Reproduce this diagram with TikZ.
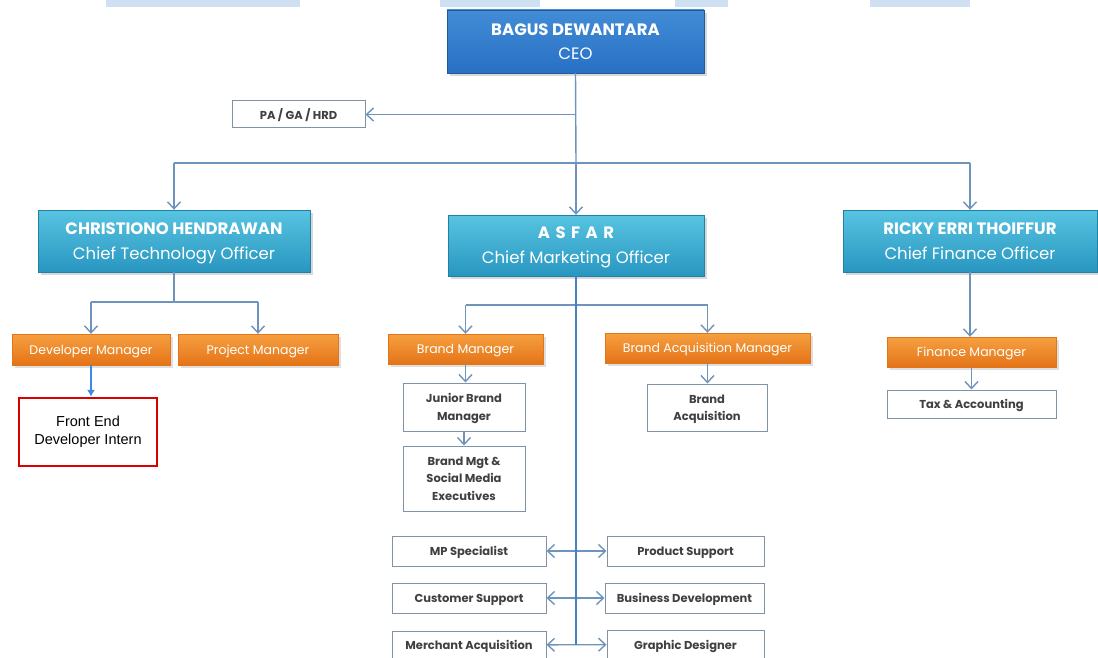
\documentclass[tikz,border=0pt]{standalone}
\usepackage{fontspec}
\setmainfont{Poppins}
\newfontfamily\arialfont{Liberation Sans}
\usepackage{tikz}
\usetikzlibrary{calc}
\usetikzlibrary{arrows.meta, shadows}
\definecolor{ceoblue}{RGB}{40,112,196}
\definecolor{ceotop}{RGB}{66,140,214}
\definecolor{tealtop}{RGB}{88,196,226}
\definecolor{tealbot}{RGB}{40,150,192}
\definecolor{orangetop}{RGB}{246,160,64}
\definecolor{orangebot}{RGB}{228,116,24}
\definecolor{linkblue}{RGB}{110,148,188}
\definecolor{trunkblue}{RGB}{72,128,200}
\definecolor{boxgrey}{RGB}{128,146,166}
\definecolor{stripblue}{RGB}{206,224,242}
\tikzstyle{ceobox} = [rectangle,
minimum width=257pt,
minimum height=63pt,
align=center,
text=white,
font=\fontsize{16.5}{24}\selectfont,
text depth=0pt,
draw=ceoblue!80!black,
top color=ceotop,
bottom color=ceoblue,
drop shadow={opacity=0.3}]
\tikzstyle{chiefbox} = [rectangle,
minimum height=62pt,
align=center,
text=white,
font=\fontsize{16.5}{25}\selectfont,
text depth=0pt,
draw=tealbot!85!black,
top color=tealtop,
bottom color=tealbot,
drop shadow={opacity=0.3}]
\tikzstyle{mgrbox} = [rectangle,
minimum height=30pt,
text=white,
font=\fontsize{12.5}{15}\selectfont,
text depth=0pt,
draw=orangebot,
top color=orangetop,
bottom color=orangebot,
drop shadow={opacity=0.25}]
\tikzstyle{staffbox} = [rectangle,
align=center,
text=black!75,
font=\fontsize{11.5}{17.5}\selectfont\bfseries,
text depth=0pt,
draw=boxgrey,
line width=1pt,
fill=white]
\tikzstyle{internbox} = [rectangle,
minimum width=138pt,
minimum height=68pt,
align=center,
font=\arialfont\fontsize{14.5}{18}\selectfont,
draw=red!85!black,
line width=2.4pt,
fill=white]
\tikzstyle{line} = [draw=linkblue, line width=1.4pt]
\tikzstyle{arrow} = [line, -{Straight Barb[length=7pt, width=13pt]}]
\tikzstyle{biarrow} = [line, {Straight Barb[length=7pt, width=13pt]}-{Straight Barb[length=7pt, width=13pt]}]

\begin{document}
\begin{tikzpicture}[x=1pt, y=-1pt]
    \useasboundingbox (0,0) rectangle (1098,658);

    % strips along the top edge
    \fill [stripblue] (106,0) rectangle (300,7);
    \fill [stripblue] (440,0) rectangle (540,7);
    \fill [stripblue] (675,0) rectangle (728,7);
    \fill [stripblue] (870,0) rectangle (970,7);

    % top level
    \node (ceo) [ceobox] at (575.5,41.5) {{\bfseries BAGUS DEWANTARA}\\CEO};
    \node (pa) [staffbox, minimum width=133pt, minimum height=27pt] at (298.5,114.5) {PA / GA / HRD};

    \node (cto) [chiefbox, minimum width=272pt] at (174,241) {{\bfseries CHRISTIONO HENDRAWAN}\\Chief Technology Officer};
    \node (cmo) [chiefbox, minimum width=256pt, minimum height=61pt] at (576,245.5) {{\bfseries A\,\,S\,\,F\,\,A\,\,R}\\Chief Marketing Officer};
    \node (cfo) [chiefbox, minimum width=254pt] at (970,241) {{\bfseries RICKY ERRI THOIFFUR}\\Chief Finance Officer};

    % technology
    \node (devm) [mgrbox, minimum width=158pt, minimum height=31pt] at (91,349.5) {Developer Manager};
    \node (projm) [mgrbox, minimum width=160pt, minimum height=31pt] at (258,349.5) {Project Manager};
    \node (fe) [internbox] at (88,432) {Front End\\Developer Intern};

    % marketing
    \node (bm) [mgrbox, minimum width=155pt] at (465.5,349) {Brand Manager};
    \node (bam) [mgrbox, minimum width=205pt] at (707.5,348) {Brand Acquisition Manager};
    \node (jbm) [staffbox, minimum width=122pt, minimum height=48pt] at (464,407) {Junior Brand\\Manager};
    \node (bmsm) [staffbox, minimum width=122pt, minimum height=65pt] at (464,478.5) {Brand Mgt \&\\Social Media\\Executives};
    \node (ba) [staffbox, minimum width=120pt, minimum height=47pt] at (707,407.5) {Brand\\Acquisition};

    \node (mp) [staffbox, minimum width=154pt, minimum height=30pt] at (469,551) {MP Specialist};
    \node (ps) [staffbox, minimum width=157pt, minimum height=30pt] at (685.5,551) {Product Support};
    \node (cs) [staffbox, minimum width=154pt, minimum height=30pt] at (469,598) {Customer Support};
    \node (bd) [staffbox, minimum width=159pt, minimum height=30pt] at (684.5,598) {Business Development};
    \node (ma) [staffbox, minimum width=154pt, minimum height=28pt] at (469,645) {Merchant Acquisition};
    \node (gd) [staffbox, minimum width=157pt, minimum height=29pt] at (685.5,644.5) {Graphic Designer};

    % finance
    \node (fm) [mgrbox, minimum width=169pt] at (971.5,352) {Finance Manager};
    \node (ta) [staffbox, minimum width=169pt, minimum height=28pt] at (971.5,404) {Tax \& Accounting};

    % hubs
    \coordinate (hub) at (576,163);
    \coordinate (ctohub) at (174,302);
    \coordinate (cmohub) at (576,305);
    \coordinate (cmoend) at (576,645);

    % ceo arcs
    \draw [line] (ceo.south) -- (hub);
    \draw [arrow] (ceo.south |- pa.east) -- (pa.east);
    \draw [line] (cto.north |- hub) -- (cfo.north |- hub);
    \draw [arrow] (cto.north |- hub) -- (cto.north);
    \draw [arrow] (hub) -- (cmo.north);
    \draw [arrow] (cfo.north |- hub) -- (cfo.north);

    % cto arcs
    \draw [line] (cto.south) -- (ctohub);
    \draw [line] (devm.north |- ctohub) -- (projm.north |- ctohub);
    \draw [arrow] (devm.north |- ctohub) -- (devm.north);
    \draw [arrow] (projm.north |- ctohub) -- (projm.north);
    \draw [draw={rgb,255:red,60;green,140;blue,230}, line width=1.2pt, -{Latex[length=7pt, width=8pt]}] (devm.south) -- (devm.south |- fe.north);

    % cmo arcs
    \draw [line] (bm.north |- cmohub) -- (bam.north |- cmohub);
    \draw [arrow] (bm.north |- cmohub) -- (bm.north);
    \draw [arrow] (bam.north |- cmohub) -- (bam.north);
    \draw [arrow] (bm.south) -- (bm.south |- jbm.north);
    \draw [arrow] (jbm) -- (bmsm);
    \draw [arrow] (bam.south) -- (bam.south |- ba.north);
    \draw [biarrow] (mp) -- (ps);
    \draw [biarrow] (cs) -- (bd);
    \draw [biarrow] (ma) -- (gd);
    \draw [draw=trunkblue, line width=2.2pt] (cmo.south) -- (cmoend);

    % cfo arcs
    \draw [arrow] (cfo.south) -- (cfo.south |- fm.north);
    \draw [arrow] (fm) -- (ta);
  \end{tikzpicture}
\end{document}
